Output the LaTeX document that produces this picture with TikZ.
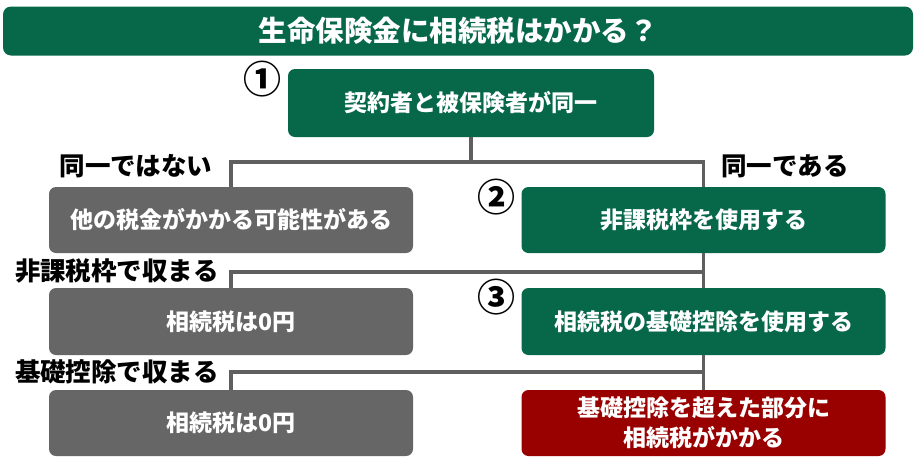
\documentclass[tikz,border=0pt]{standalone}
\usepackage{fontspec}
\newfontfamily\jp{Noto Sans CJK JP}
\definecolor{dgreen}{RGB}{6,103,73}
\definecolor{dgray}{RGB}{102,102,102}
\definecolor{dred}{RGB}{153,0,0}
\definecolor{lgray}{RGB}{95,95,95}
\begin{document}
\begin{tikzpicture}[x=1pt,y=-1pt,
  box/.style={rounded corners=7pt, text=white, font=\jp\bfseries\fontsize{23}{30}\selectfont,
    minimum width=364pt, minimum height=66pt, inner sep=0pt, align=center},
  gbox/.style={box, fill=dgreen},
  graybox/.style={box, fill=dgray},
  redbox/.style={box, fill=dred},
  lbl/.style={font=\jp\bfseries\fontsize{25.5}{28}\selectfont, text=black, inner sep=0pt},
  num/.style={font=\jp\bfseries\fontsize{38}{38}\selectfont, text=black, inner sep=0pt},
  conn/.style={draw=lgray, line width=3.5pt}]
\useasboundingbox (0,0) rectangle (916,461);
\node[gbox, minimum width=910pt, minimum height=49pt, rounded corners=8pt,
  font=\jp\bfseries\fontsize{28.5}{30}\selectfont] (title) at (458,31) {生命保険金に相続税はかかる？};
\node[gbox, minimum width=366pt, minimum height=68pt] (b1) at (471,103) {契約者と被保険者が同一};
\node[graybox] (g2) at (231,220) {他の税金がかかる可能性がある};
\node[gbox] (r2) at (703.5,220) {非課税枠を使用する};
\node[graybox, minimum height=67pt] (g3) at (231,321.5) {相続税は0円};
\node[gbox, minimum height=67pt] (r3) at (703.5,321.5) {相続税の基礎控除を使用する};
\node[graybox] (g4) at (231,423) {相続税は0円};
\node[redbox] (r4) at (703.5,423) {基礎控除を超えた部分に\\相続税がかかる};
\node[num] (n1) at (262,79) {①};
\node[num] (n2) at (496,197) {②};
\node[num] (n3) at (496,297) {③};
\node[lbl] (l1) at (136,166) {同一ではない};
\node[lbl] (l2) at (785,166) {同一である};
\node[lbl] (l3) at (117,271) {非課税枠で収まる};
\node[lbl] (l4) at (117,372) {基礎控除で収まる};
\coordinate (h1) at (0,162);
\coordinate (h2) at (0,272);
\coordinate (h3) at (0,372);
\draw[conn] (b1.south) -- (b1.south |- h1);
\draw[conn] (g2.north) |- (r2.north |- h1) -- (r2.north);
\draw[conn] (r2.south) -- (r3.north);
\draw[conn] (g3.north) |- (r2.south |- h2);
\draw[conn] (r3.south) -- (r4.north);
\draw[conn] (g4.north) |- (r3.south |- h3);
\end{tikzpicture}
\end{document}
